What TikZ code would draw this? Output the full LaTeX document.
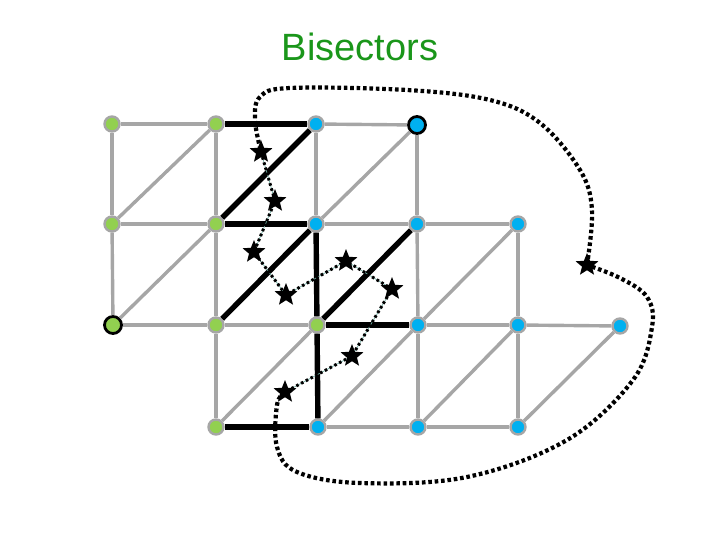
\documentclass[tikz,border=0pt]{standalone}
\usepackage{fontspec}
\setmainfont{Liberation Sans}
\usetikzlibrary{shapes.geometric}
\definecolor{ptGreen}{RGB}{146,208,80}
\definecolor{ptBlue}{RGB}{0,176,240}
\definecolor{edgeGray}{RGB}{166,166,166}
\definecolor{titleGreen}{RGB}{26,150,26}
\definecolor{chainTeal}{RGB}{110,170,160}

\begin{document}
\begin{tikzpicture}[x=1pt,y=-1pt,
    vtx/.style={circle,draw=edgeGray,line width=2.4pt,minimum size=15pt,inner sep=0pt},
    gdot/.style={vtx,fill=ptGreen},
    bdot/.style={vtx,fill=ptBlue},
    ring/.style={draw=black,line width=2.8pt,minimum size=17pt},
    gridline/.style={draw=edgeGray,line width=3.4pt},
    cutline/.style={draw=black,line width=5.4pt},
    starmark/.style={star,star points=5,star point ratio=2.3,fill=black,inner sep=0pt,minimum size=24pt},
    chain/.style={line width=3pt,dash pattern=on 2.6pt off 2.8pt},
    tour/.style={line width=4.2pt,dash pattern=on 3.6pt off 2.8pt}
  ]
  \useasboundingbox (0,0) rectangle (720,540);

  \node[font=\fontsize{38}{44}\selectfont,text=titleGreen] (title) at (360,47) {Bisectors};

  % grid vertices
  \node[gdot] (a00) at (112,124) {};
  \node[gdot] (a01) at (216,124) {};
  \node[bdot] (a02) at (316,124) {};
  \node[bdot,ring] (a03) at (417,125) {};
  \node[gdot] (a10) at (112,224) {};
  \node[gdot] (a11) at (216,224) {};
  \node[bdot] (a12) at (316,224) {};
  \node[bdot] (a13) at (417,224) {};
  \node[bdot] (a14) at (518,224) {};
  \node[gdot,ring] (a20) at (113,325) {};
  \node[gdot] (a21) at (216,325) {};
  \node[gdot] (a22) at (317,325) {};
  \node[bdot] (a23) at (418,325) {};
  \node[bdot] (a24) at (518,325) {};
  \node[bdot] (a25) at (620,326) {};
  \node[gdot] (a31) at (216,427) {};
  \node[bdot] (a32) at (318,427) {};
  \node[bdot] (a33) at (418,427) {};
  \node[bdot] (a34) at (518,427) {};

  % gray triangulation
  \draw[gridline] (a00) -- (a01);
  \draw[gridline] (a02) -- (a03);
  \draw[gridline] (a10) -- (a11);
  \draw[gridline] (a12) -- (a13);
  \draw[gridline] (a13) -- (a14);
  \draw[gridline] (a20) -- (a21);
  \draw[gridline] (a21) -- (a22);
  \draw[gridline] (a23) -- (a24);
  \draw[gridline] (a24) -- (a25);
  \draw[gridline] (a32) -- (a33);
  \draw[gridline] (a33) -- (a34);
  \draw[gridline] (a00) -- (a10);
  \draw[gridline] (a10) -- (a20);
  \draw[gridline] (a01) -- (a11);
  \draw[gridline] (a11) -- (a21);
  \draw[gridline] (a21) -- (a31);
  \draw[gridline] (a02) -- (a12);
  \draw[gridline] (a03) -- (a13);
  \draw[gridline] (a13) -- (a23);
  \draw[gridline] (a23) -- (a33);
  \draw[gridline] (a14) -- (a24);
  \draw[gridline] (a24) -- (a34);
  \draw[gridline] (a10) -- (a01);
  \draw[gridline] (a20) -- (a11);
  \draw[gridline] (a12) -- (a03);
  \draw[gridline] (a31) -- (a22);
  \draw[gridline] (a32) -- (a23);
  \draw[gridline] (a23) -- (a14);
  \draw[gridline] (a33) -- (a24);
  \draw[gridline] (a34) -- (a25);

  % black cut edges
  \draw[cutline] (a01) -- (a02);
  \draw[cutline] (a02) -- (a11);
  \draw[cutline] (a11) -- (a12);
  \draw[cutline] (a12) -- (a21);
  \draw[cutline] (a12) -- (a22);
  \draw[cutline] (a22) -- (a32);
  \draw[cutline] (a13) -- (a22);
  \draw[cutline] (a22) -- (a23);
  \draw[cutline] (a31) -- (a32);

  % bisector stars
  \coordinate (s1) at (261,152);
  \coordinate (s2) at (275,201);
  \coordinate (s3) at (254,252);
  \coordinate (s4) at (286,295);
  \coordinate (s5) at (346,261);
  \coordinate (s6) at (392,289);
  \coordinate (s7) at (352,356);
  \coordinate (s8) at (285,392);
  \coordinate (s9) at (587,265);

  % inner chain
  \draw[chainTeal,line width=0.7pt] (s1) -- (s2) -- (s3) -- (s4) -- (s5) -- (s6) -- (s7) -- (s8);
  \draw[chain] (s1) -- (s2) -- (s3) -- (s4) -- (s5) -- (s6) -- (s7) -- (s8);

  % outer tour
  \draw[tour] plot[smooth,tension=0.6] coordinates {(s8) (277,405) (277,447) (297,472) (360,483) (467,477) (567,440) (633,380) (652,327) (647,297) (620,278) (s9)};
  \draw[tour] plot[smooth,tension=0.6] coordinates {(s9) (592,210) (580,170) (540,123) (490,100) (407,90) (290,88) (260,97) (255,120) (s1)};

  \foreach \s in {s1,s2,s3,s4,s5,s6,s7,s8,s9}
    \node[starmark] at (\s) {};
\end{tikzpicture}
\end{document}
